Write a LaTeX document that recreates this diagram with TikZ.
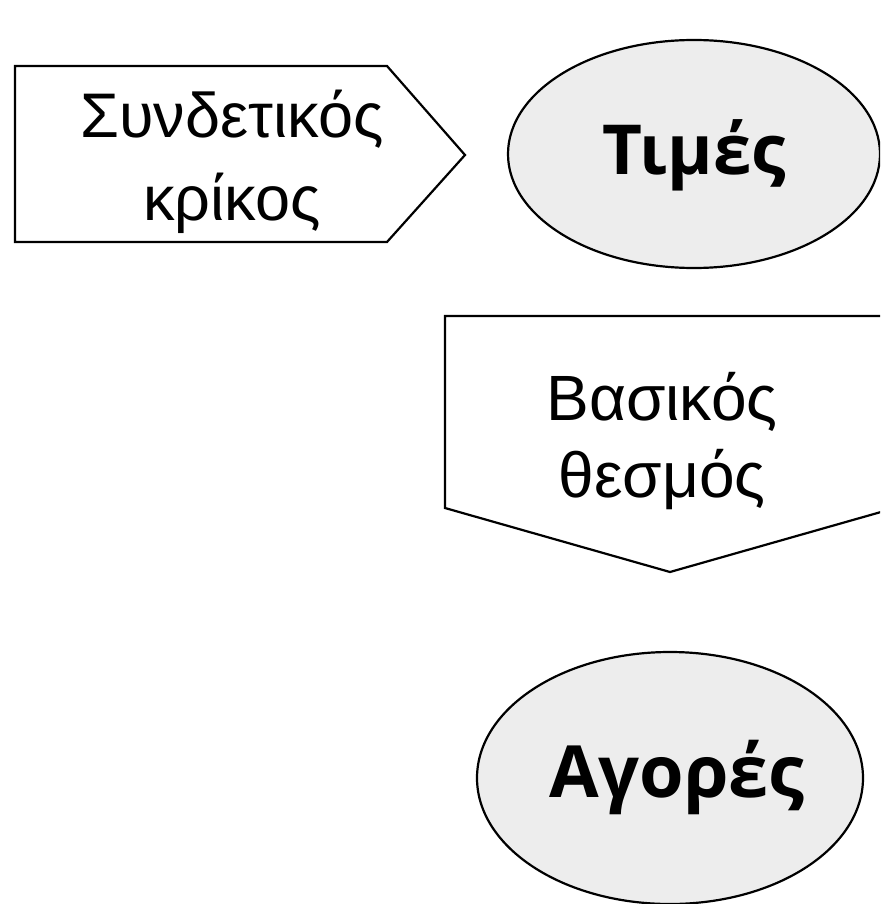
\documentclass[tikz,border=0pt]{standalone}
\usepackage{fontspec}
\setmainfont{Liberation Sans}
\newfontfamily\boldlab{Open Sans}
\usetikzlibrary{shapes.geometric}
\definecolor{ellfill}{HTML}{EDEDED}
\tikzset{
  outline/.style={draw=black,line width=2.2pt,line join=miter},
  ellbox/.style={outline,fill=ellfill},
  arrowtext/.style={align=center,inner sep=0pt},
  elltext/.style={font=\boldlab\bfseries\fontsize{72}{80}\selectfont,inner sep=0pt}
}
\begin{document}
\begin{tikzpicture}[x=1pt,y=-1pt]
\useasboundingbox (0,0) rectangle (880,904);
\clip (0,0) rectangle (880,904);
\fill[white] (0,0) rectangle (880,904);
% left pentagon arrow
\draw[outline] (15,66) -- (387,66) -- (465,155) -- (387,242) -- (15,242) -- cycle;
\node[arrowtext,font=\fontsize{63}{83}\selectfont,anchor=base] (link) at (232,220) {Συνδετικός\\κρίκος};
% ellipse Times
\draw[ellbox] (694,154) ellipse [x radius=186, y radius=114];
\node[elltext,font=\boldlab\bfseries\fontsize{69}{80}\selectfont,anchor=base] (prices) at (694,175) {Τιμές};
% down arrow
\draw[outline] (445,316) -- (895,316) -- (895,508) -- (670,572) -- (445,508) -- cycle;
\node[arrowtext,font=\fontsize{64}{77}\selectfont,anchor=base] (inst) at (662,497) {Βασικός\\θεσμός};
% ellipse Markets
\draw[ellbox] (670,778) ellipse [x radius=193, y radius=126];
\node[elltext,anchor=base] (markets) at (677,797) {Αγορές};
\end{tikzpicture}
\end{document}
